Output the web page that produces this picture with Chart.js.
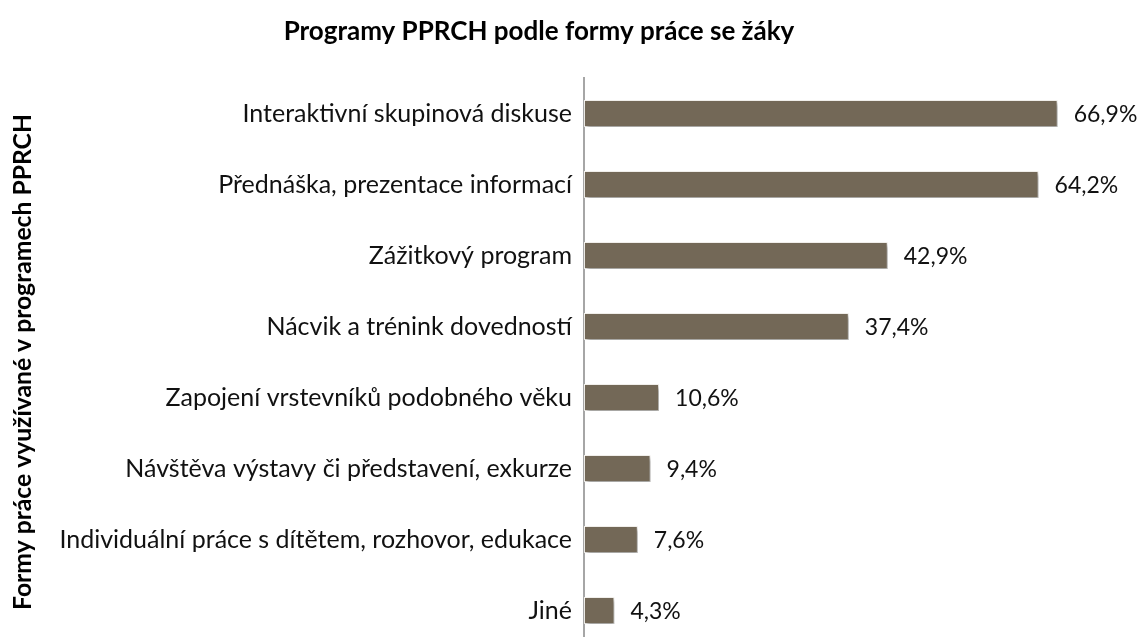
<!DOCTYPE html>
<html>
<head>
<meta charset="utf-8">
<script src="https://cdn.jsdelivr.net/npm/chart.js@4"></script>
<style>
  html, body { margin: 0; padding: 0; background: #fff; overflow: hidden; }
  #wrap { width: 1143px; height: 673px; }
</style>
</head>
<body>
<div id="wrap"><canvas id="c"></canvas></div>
<script>
const categories = [
  'Interaktivní skupinová diskuse',
  'Přednáška, prezentace informací',
  'Zážitkový program',
  'Nácvik a trénink dovedností',
  'Zapojení vrstevníků podobného věku',
  'Návštěva výstavy či představení, exkurze',
  'Individuální práce s dítětem, rozhovor, edukace',
  'Jiné'
];
const shares = [66.9, 64.2, 42.9, 37.4, 10.6, 9.4, 7.6, 4.3];
const shareLabels = ['66,9%', '64,2%', '42,9%', '37,4%', '10,6%', '9,4%', '7,6%', '4,3%'];
const chartTitle = 'Programy PPRCH podle formy práce se žáky';

const FONT = 'Lato, "Open Sans", sans-serif';

// shadow under the bars, like the Excel original
const barShadow = {
  id: 'barShadow',
  beforeDatasetsDraw(chart) {
    const ctx = chart.ctx;
    ctx.save();
    ctx.shadowColor = 'rgba(0,0,0,0.35)';
    ctx.shadowBlur = 4;
    ctx.shadowOffsetX = 2;
    ctx.shadowOffsetY = 3;
  },
  afterDatasetsDraw(chart) {
    chart.ctx.restore();
  }
};

// value labels to the right of each bar + the title
const extraText = {
  id: 'extraText',
  afterDatasetsDraw(chart) {
    const ctx = chart.ctx;
    const meta = chart.getDatasetMeta(0);
    ctx.save();
    ctx.font = '23px ' + FONT;
    ctx.fillStyle = '#111';
    ctx.textAlign = 'left';
    ctx.textBaseline = 'middle';
    meta.data.forEach((bar, i) => {
      ctx.fillText(shareLabels[i], bar.x + 16, bar.y + 1);
    });

    ctx.font = 'bold 26px ' + FONT;
    ctx.fillStyle = '#000';
    ctx.textAlign = 'center';
    ctx.fillText(chartTitle, 539, 32);
    ctx.restore();
  }
};

new Chart(document.getElementById('c'), {
  type: 'bar',
  data: {
    labels: categories,
    datasets: [{
      data: shares,
      backgroundColor: '#736857',
      borderColor: '#f4f2ee',
      borderWidth: 1,
      borderSkipped: false,
      categoryPercentage: 1,
      barPercentage: 0.38
    }]
  },
  options: {
    indexAxis: 'y',
    responsive: true,
    maintainAspectRatio: false,
    animation: false,
    layout: { padding: { left: 8, right: 28, top: 78, bottom: 4 } },
    plugins: {
      legend: { display: false },
      tooltip: { enabled: false },
      title: { display: false }
    },
    scales: {
      x: {
        display: false,
        min: 0,
        max: 75
      },
      y: {
        afterFit(scale) { scale.width = 584 - 8; },
        grid: { display: false, drawTicks: false },
        border: { display: true, color: '#a6a6a6', width: 2 },
        ticks: {
          color: '#111',
          padding: 12,
          font: { family: FONT, size: 25 }
        },
        title: {
          display: true,
          text: 'Formy práce využívané v programech PPRCH',
          color: '#000',
          font: { family: FONT, size: 24.7, weight: 'bold' },
          padding: { top: 0, bottom: 0 }
        }
      }
    }
  },
  plugins: [barShadow, extraText]
});
</script>
</body>
</html>
